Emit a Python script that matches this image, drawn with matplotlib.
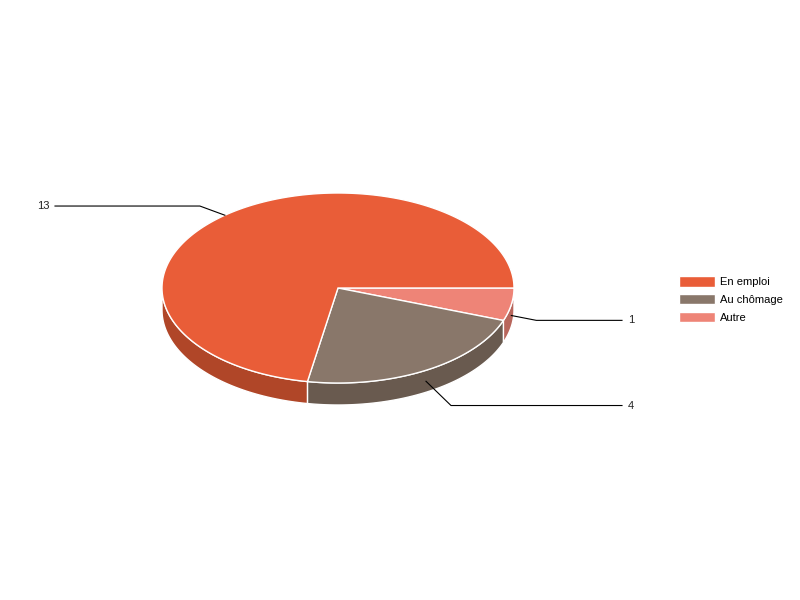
import numpy as np
import matplotlib
matplotlib.use('Agg')
import matplotlib.pyplot as plt
from matplotlib.patches import Polygon, Patch

plt.rcParams['font.family'] = ['Liberation Sans', 'DejaVu Sans']

labels = ['Autre', 'Au chômage', 'En emploi']
values = [1, 4, 13]
top_colors = ['#EE8477', '#89776A', '#E95D38']
side_colors = ['#B8665C', '#695A4F', '#B04628']
legend_order = [2, 1, 0]

cx, cy = 338, 288
rx, ry = 176, 95
depth = 22


def ell(t, dy=0):
    t = np.radians(t)
    return np.column_stack([cx + rx * np.cos(t), cy + ry * np.sin(t) + dy])


fig = plt.figure(figsize=(8, 6), dpi=100)
ax = fig.add_axes([0, 0, 1, 1])
ax.set_xlim(0, 800)
ax.set_ylim(600, 0)
ax.axis('off')

total = sum(values)
starts = np.cumsum([0] + values[:-1]) / total * 360
ends = np.cumsum(values) / total * 360

# side walls (front half only)
for s, e, col in zip(starts, ends, side_colors):
    a, b = max(s, 0), min(e, 180)
    if a >= b:
        continue
    t = np.linspace(a, b, 80)
    pts = np.vstack([ell(t), ell(t[::-1], depth)])
    ax.add_patch(Polygon(pts, closed=True, fc=col, ec='white', lw=1, zorder=1))

# top
for s, e, col in zip(starts, ends, top_colors):
    t = np.linspace(s, e, 200)
    pts = np.vstack([[cx, cy], ell(t)])
    ax.add_patch(Polygon(pts, closed=True, fc=col, ec='white', lw=1, zorder=2))

# labels
for s, e, v in zip(starts, ends, values):
    m = (s + e) / 2
    r = np.radians(m)
    ax0, ay0 = ell([m])[0]
    if np.sin(r) > 0:
        ay0 += depth / 2
        ey = ay0 + 28 * np.sin(r)
    else:
        ey = ay0 + 12 * np.sin(r)
    ex = ax0 + 25 * np.sign(np.cos(r))
    if np.cos(r) >= 0:
        lx, tx, ha = 622, 628, 'left'
    else:
        lx, tx, ha = 55, 50, 'right'
    ax.plot([ax0, ex, lx], [ay0, ey, ey], color='black', lw=0.8, zorder=3)
    ax.text(tx, ey, str(v), ha=ha, va='center', fontsize=8, color='#222222')

handles = [Patch(fc=top_colors[i], ec='white', label=labels[i]) for i in legend_order]
ax.legend(handles=handles, loc='upper left', bbox_to_anchor=(669 / 800, 1 - 266 / 600),
          frameon=False, fontsize=8, handlelength=3.2, handleheight=1.1,
          handletextpad=0.5, labelspacing=0.6)

fig.savefig('out.png', dpi=100)
